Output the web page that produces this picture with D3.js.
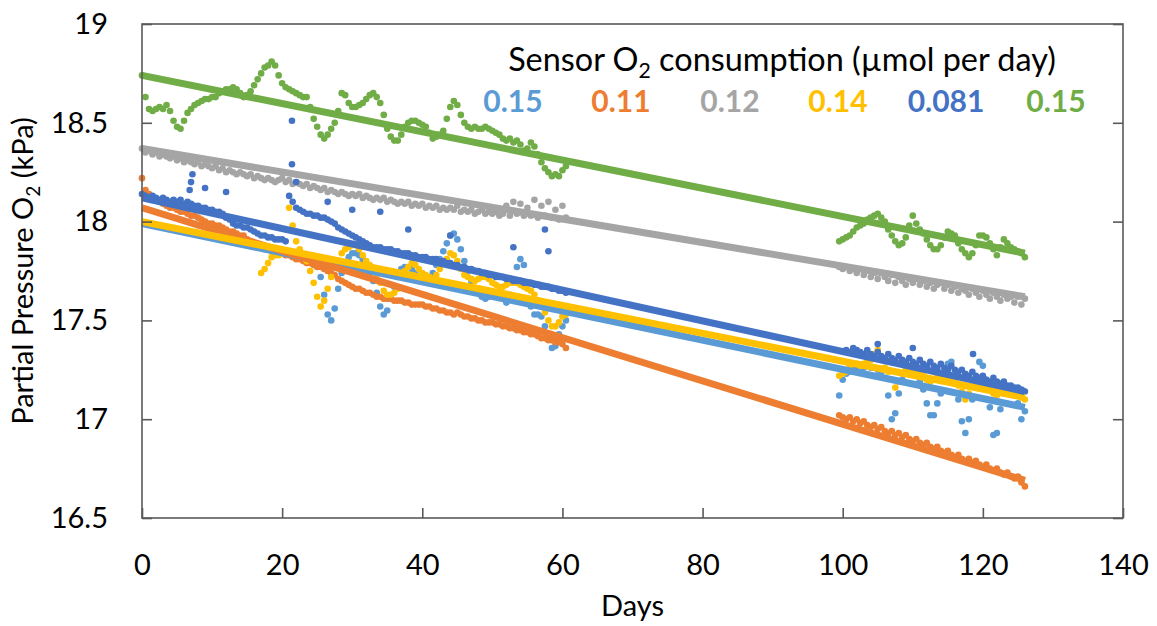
<!DOCTYPE html>
<html><head><meta charset="utf-8">
<script src="https://cdn.jsdelivr.net/npm/d3@7"></script>
<style>body{margin:0;background:#fff}svg{display:block}text{font-family:Lato,"Open Sans",sans-serif}</style>
</head><body>
<svg id="c" width="1157" height="626"></svg>
<script>
// ---------- data (samples every 0.5 day) ----------
const seriesNames = ["0.15", "0.11", "0.12", "0.14", "0.081", "0.15"];
const seriesColors = ["#5B9BD5", "#ED7D31", "#A5A5A5", "#FFC000", "#4472C4", "#70AD47"];
const xTicks = [0, 20, 40, 60, 80, 100, 120, 140];
const yTicks = [16.5, 17, 17.5, 18, 18.5, 19];
const step = 0.5;

// light blue
const lb1Start = 25.5;
const lb1 = [17.72,17.63,17.53,17.50,17.56,17.66,17.74,17.79,17.82,17.84,17.84,17.83,17.81,17.78,17.74,17.70,17.64,17.57,17.53,17.55,17.61,17.67,17.72,17.76,17.77,17.77,17.76,17.74,17.72,17.71,17.70,17.71,17.74,17.78,17.81,17.85,17.89,17.93,17.94,17.91,17.86,17.80,17.75,17.70,17.66,17.64,17.62,17.61,17.62,17.63,17.64,17.64,17.61,17.59,17.63,17.70,17.77,17.81,17.78,17.68,17.57,17.53,17.53,17.52,17.47,17.41,17.36,17.37,17.43,17.47,17.50];
const lb2Start = 99.5;
const lb2 = [17.12,17.20,17.23,17.24,17.25,17.26,17.26,17.26,17.27,17.26,17.26,17.25,17.24,17.21,17.12,17.00,17.03,17.13,17.20,17.24,17.26,17.26,17.23,17.19,17.15,17.08,17.02,17.02,17.08,17.13,17.22,17.28,17.29,17.22,17.10,16.99,16.93,17.00,17.10,17.20,17.29,17.27,17.20,17.06,16.92,16.93,17.05,17.13,17.16,17.14,17.12,17.08,17.00,17.04];

// orange
const or1Start = 0;
const or1 = [18.22,18.16,18.14,18.12,18.11,18.10,18.09,18.08,18.07,18.07,
 18.06,18.05,18.05,18.04,18.03,18.03,18.02,18.01,18.00,17.99,
 17.99,17.98,17.98,17.97,17.96,17.95,17.95,17.94,17.93,17.93,
 17.91,17.90,17.88,17.87,17.87,17.86,17.86,17.85,17.85,17.85,
 17.84,17.83,17.83,17.82,17.81,17.81,17.80,17.79,17.79,17.78,
 17.77,17.77,17.76,17.75,17.74,17.73,17.71,17.70,17.69,17.68,
 17.67,17.66,17.66,17.65,17.64,17.64,17.63,17.62,17.62,17.61,
 17.61,17.61,17.60,17.60,17.60,17.59,17.59,17.58,17.58,17.58,
 17.58,17.57,17.57,17.56,17.56,17.55,17.55,17.54,17.54,17.53,
 17.54,17.53,17.52,17.52,17.51,17.51,17.50,17.50,17.49,17.49,
 17.49,17.48,17.48,17.47,17.47,17.46,17.46,17.45,17.45,17.44,
 17.44,17.43,17.43,17.42,17.41,17.41,17.40,17.40,17.39,17.39,
 17.38,17.36];
const or2Start = 99.5;
const or2 = [17.02,17.01,17.00,17.01,16.99,17.00,16.98,16.99,16.97,16.96,16.97,16.95,16.96,16.94,16.93,16.94,16.92,16.93,16.91,16.92,16.90,16.89,16.90,16.88,16.87,16.88,16.86,16.85,16.86,16.84,16.83,16.84,16.82,16.81,16.82,16.80,16.79,16.80,16.78,16.79,16.77,16.76,16.77,16.75,16.74,16.75,16.73,16.72,16.73,16.71,16.70,16.71,16.68,16.66];

// gray
const gy1Start = 0;
const gy1 = [18.37,18.35,18.36,18.34,18.35,18.33,18.34,18.33,18.32,18.33,
 18.31,18.32,18.30,18.31,18.30,18.29,18.30,18.28,18.29,18.28,
 18.27,18.28,18.26,18.27,18.25,18.26,18.25,18.24,18.25,18.24,
 18.23,18.24,18.22,18.23,18.22,18.21,18.22,18.21,18.20,18.21,
 18.22,18.20,18.21,18.19,18.20,18.19,18.18,18.19,18.17,18.18,
 18.17,18.16,18.17,18.15,18.16,18.15,18.14,18.15,18.14,18.13,
 18.14,18.13,18.14,18.12,18.13,18.12,18.11,18.12,18.11,18.12,
 18.10,18.11,18.10,18.09,18.10,18.09,18.10,18.08,18.09,18.08,
 18.09,18.07,18.08,18.07,18.08,18.06,18.07,18.06,18.07,18.06,
 18.08,18.05,18.06,18.05,18.06,18.04,18.05,18.06,18.04,18.05,
 18.04,18.05,18.03,18.04,18.08,18.03,18.10,18.04,18.09,18.03,
 18.07,18.03,18.11,18.02,18.08,18.03,18.10,18.02,18.06,18.01,
 18.08,18.02];
const gy2Start = 99.5;
const gy2 = [17.77,17.76,17.77,17.75,17.76,17.74,17.76,17.73,17.75,17.72,17.74,17.71,17.74,17.72,17.70,17.73,17.69,17.72,17.70,17.68,17.71,17.69,17.71,17.68,17.70,17.67,17.69,17.66,17.68,17.69,17.66,17.68,17.65,17.67,17.64,17.66,17.65,17.63,17.66,17.64,17.62,17.65,17.63,17.61,17.64,17.62,17.60,17.63,17.61,17.62,17.59,17.62,17.58,17.61];

// yellow
const ye1Start = 17;
const ye1 = [17.74,17.76,17.79,17.82,17.83,17.83,17.84,17.85,18.07,17.98,17.90,17.86,17.83,17.80,17.75,17.69,17.62,17.57,17.60,17.66,17.72,17.77,17.80,17.84,17.86,17.87,17.88,17.88,17.86,17.83,17.80,17.78,17.76,17.73,17.69,17.65,17.63,17.63,17.64,17.66,17.72,17.75,17.77,17.79,17.78,17.76,17.74,17.73,17.72,17.71,17.73,17.76,17.79,17.81,17.84,17.83,17.80,17.76,17.73,17.72,17.71,17.70,17.71,17.72,17.72,17.71,17.69,17.68,17.67,17.67,17.68,17.69,17.69,17.69,17.68,17.67,17.66,17.65,17.63,17.60,17.57,17.54,17.50,17.47,17.47,17.49,17.52,17.53];
const ye2Start = 99.5;
const ye2 = [17.22,17.23,17.24,17.27,17.28,17.28,17.27,17.28,17.29,17.30,17.33,17.35,17.30,17.26,17.24,17.20,17.16,17.19,17.23,17.25,17.26,17.25,17.24,17.23,17.22,17.20,17.19,17.20,17.22,17.23,17.22,17.21,17.20,17.19,17.17,17.14,17.10,17.13,17.17,17.19,17.19,17.18,17.17,17.15,17.13,17.12,17.14,17.16,17.15,17.14,17.13,17.12,17.11,17.10];

// blue
const bl1Start = 0;
const bl1 = [18.14,18.13,18.12,18.13,18.12,18.11,18.12,18.11,18.10,18.11,
 18.10,18.11,18.09,18.10,18.09,18.08,18.08,18.07,18.07,18.06,
 18.06,18.05,18.05,18.04,18.02,18.01,17.99,17.98,17.98,17.97,
 17.97,17.96,17.95,17.94,17.93,17.93,17.92,17.92,17.91,17.91,
 17.91,17.90,18.13,18.10,18.07,18.06,18.05,18.04,18.04,18.03,
 18.03,18.02,18.02,18.01,18.00,17.99,17.97,17.96,17.95,17.94,
 17.93,17.92,17.91,17.90,17.89,17.88,17.87,17.87,17.87,17.86,
 17.86,17.86,17.85,17.85,17.84,17.84,17.84,17.83,17.83,17.82,
 17.82,17.82,17.81,17.81,17.81,17.80,17.80,17.79,17.79,17.78,
 17.78,17.77,17.77,17.76,17.76,17.75,17.75,17.74,17.74,17.73,
 17.73,17.72,17.72,17.72,17.71,17.71,17.70,17.70,17.70,17.69,
 17.69,17.69,17.68,17.68,17.67,17.67,17.67,17.66,17.66,17.65,
 17.65,17.64];
const bl2Start = 100.5;
const bl2 = [17.35,17.34,17.36,17.35,17.34,17.33,17.35,17.33,17.32,17.34,17.32,17.31,17.33,17.31,17.30,17.32,17.30,17.29,17.31,17.29,17.28,17.30,17.28,17.27,17.29,17.27,17.26,17.28,17.26,17.25,17.27,17.25,17.24,17.25,17.23,17.22,17.24,17.22,17.21,17.22,17.20,17.19,17.21,17.19,17.18,17.19,17.17,17.17,17.16,17.16,17.15,17.14];
const blOutDays = [6.8, 7.0, 7.2, 9.0, 12.0, 21.4, 21.4, 22.0, 26.5, 30.0, 34.0, 38.0, 44.0, 53.0, 57.5, 58.0, 105.0, 110.0, 118.6];
const blOutVals = [18.16, 18.20, 18.24, 18.17, 18.15, 18.51, 18.29, 18.20, 18.10, 18.06, 18.05, 17.96, 17.93, 17.87, 17.96, 17.85, 17.38, 17.36, 17.33];

// green
const gn1Start = 0;
const gn1 = [18.74,18.63,18.57,18.56,18.57,18.58,18.57,18.59,18.56,18.51,
 18.48,18.47,18.51,18.55,18.57,18.59,18.60,18.61,18.62,18.62,
 18.63,18.63,18.65,18.66,18.67,18.67,18.68,18.67,18.65,18.63,
 18.64,18.66,18.69,18.72,18.75,18.78,18.79,18.81,18.79,18.74,
 18.70,18.68,18.67,18.66,18.65,18.64,18.63,18.63,18.58,18.52,
 18.48,18.44,18.42,18.44,18.47,18.50,18.56,18.65,18.64,18.60,
 18.58,18.58,18.59,18.60,18.62,18.64,18.65,18.63,18.60,18.54,
 18.47,18.43,18.41,18.41,18.44,18.48,18.50,18.51,18.51,18.50,
 18.49,18.48,18.45,18.42,18.43,18.44,18.46,18.52,18.58,18.61,
 18.59,18.54,18.50,18.48,18.47,18.48,18.47,18.47,18.48,18.47,
 18.46,18.45,18.44,18.42,18.41,18.42,18.40,18.41,18.39,18.36,
 18.37,18.40,18.38,18.34,18.30,18.27,18.25,18.23,18.24,18.23,
 18.26,18.28];
const gn2Start = 99.5;
const gn2 = [17.90,17.91,17.92,17.93,17.95,17.97,17.98,17.99,18.01,18.02,18.03,18.04,18.02,18.00,17.96,17.93,17.90,17.88,17.89,17.92,17.98,18.03,17.99,17.96,17.94,17.91,17.88,17.86,17.86,17.88,17.92,17.95,17.94,17.93,17.89,17.86,17.84,17.82,17.84,17.88,17.93,17.93,17.92,17.89,17.86,17.83,17.87,17.91,17.89,17.87,17.86,17.85,17.84,17.82];

// linear trend lines (value at day 0 and at day 126)
const trendDays = [0, 126];
const trendStart = [17.99, 18.07, 18.37, 18.00, 18.12, 18.74];
const trendEnd   = [17.06, 16.69, 17.62, 17.11, 17.14, 17.84];

const segments = [
  [[lb1Start, lb1], [lb2Start, lb2]],
  [[or1Start, or1], [or2Start, or2]],
  [[gy1Start, gy1], [gy2Start, gy2]],
  [[ye1Start, ye1], [ye2Start, ye2]],
  [[bl1Start, bl1], [bl2Start, bl2]],
  [[gn1Start, gn1], [gn2Start, gn2]]
];

// ---------- drawing ----------
const svg = d3.select("#c");
const L = 142, R = 1123, T = 24, B = 518;
const x = d3.scaleLinear().domain([0, 140]).range([L, R]);
const y = d3.scaleLinear().domain([16.5, 19]).range([B, T]);
const axisColor = "#595959";

// points
segments.forEach((segs, si) => {
  const pts = [];
  segs.forEach(([s, vals]) => vals.forEach((v, i) => pts.push([s + i * step, v])));
  if (si === 4) blOutDays.forEach((d, i) => pts.push([d, blOutVals[i]]));
  svg.append("g").selectAll("circle").data(pts).join("circle")
    .attr("cx", d => x(d[0])).attr("cy", d => y(d[1])).attr("r", 3.3)
    .attr("fill", seriesColors[si]);
});

// trend lines
const line = d3.line().x(d => x(d[0])).y(d => y(d[1]));
seriesColors.forEach((c, si) => {
  svg.append("path")
    .attr("d", line([[trendDays[0], trendStart[si]], [trendDays[1], trendEnd[si]]]))
    .attr("stroke", c).attr("stroke-width", 7).attr("fill", "none");
});

// frame
svg.append("rect").attr("x", L).attr("y", T).attr("width", R - L).attr("height", B - T)
  .attr("fill", "none").attr("stroke", axisColor).attr("stroke-width", 1.6);

// axes
const fmt = d => String(d);
const gx = svg.append("g").attr("transform", `translate(0,${B})`)
  .call(d3.axisBottom(x).tickValues(xTicks).tickFormat(fmt).tickSizeInner(-10).tickSizeOuter(0).tickPadding(36));
const gyL = svg.append("g").attr("transform", `translate(${L},0)`)
  .call(d3.axisLeft(y).tickValues(yTicks).tickFormat(fmt).tickSizeInner(-10).tickSizeOuter(0).tickPadding(34));
const gyR = svg.append("g").attr("transform", `translate(${R},0)`)
  .call(d3.axisRight(y).tickValues(yTicks).tickFormat("").tickSizeInner(-10).tickSizeOuter(0));
[gx, gyL, gyR].forEach(g => {
  g.select(".domain").remove();
  g.selectAll(".tick line").attr("stroke", axisColor).attr("stroke-width", 1.6);
  g.selectAll(".tick text").attr("font-size", 29).attr("font-family", "Lato, 'Open Sans', sans-serif").attr("fill", "#000");
});

// axis titles
svg.append("text").attr("x", (L + R) / 2).attr("y", 616).attr("text-anchor", "middle")
  .attr("font-size", 29).attr("fill", "#000").text("Days");
const yt = svg.append("text").attr("transform", `translate(33,${(T + B) / 2}) rotate(-90)`)
  .attr("text-anchor", "middle").attr("font-size", 29).attr("fill", "#000");
yt.append("tspan").text("Partial Pressure O");
yt.append("tspan").attr("font-size", 19).attr("dy", 7).text("2");
yt.append("tspan").attr("dy", -7).text(" (kPa)");

// legend title, sized to the reference width
const lt = svg.append("text").attr("x", 782).attr("y", 71).attr("text-anchor", "middle")
  .attr("font-size", 29).attr("fill", "#000");
lt.append("tspan").text("Sensor O");
lt.append("tspan").attr("class", "sub").attr("font-size", 19).attr("dy", 7).text("2");
lt.append("tspan").attr("dy", -7).text(" consumption (\u00b5mol per day)");
const w = lt.node().getComputedTextLength();
const k = 548 / w;
lt.attr("font-size", 29 * k);
lt.select(".sub").attr("font-size", 19 * k);

// legend numbers
const legendX = [513, 621, 730, 838, 946, 1056];
seriesNames.forEach((n, i) => {
  svg.append("text").attr("x", legendX[i]).attr("y", 112).attr("text-anchor", "middle")
    .attr("font-size", 30).attr("font-weight", "bold").attr("fill", seriesColors[i]).text(n);
});
</script>
</body></html>
